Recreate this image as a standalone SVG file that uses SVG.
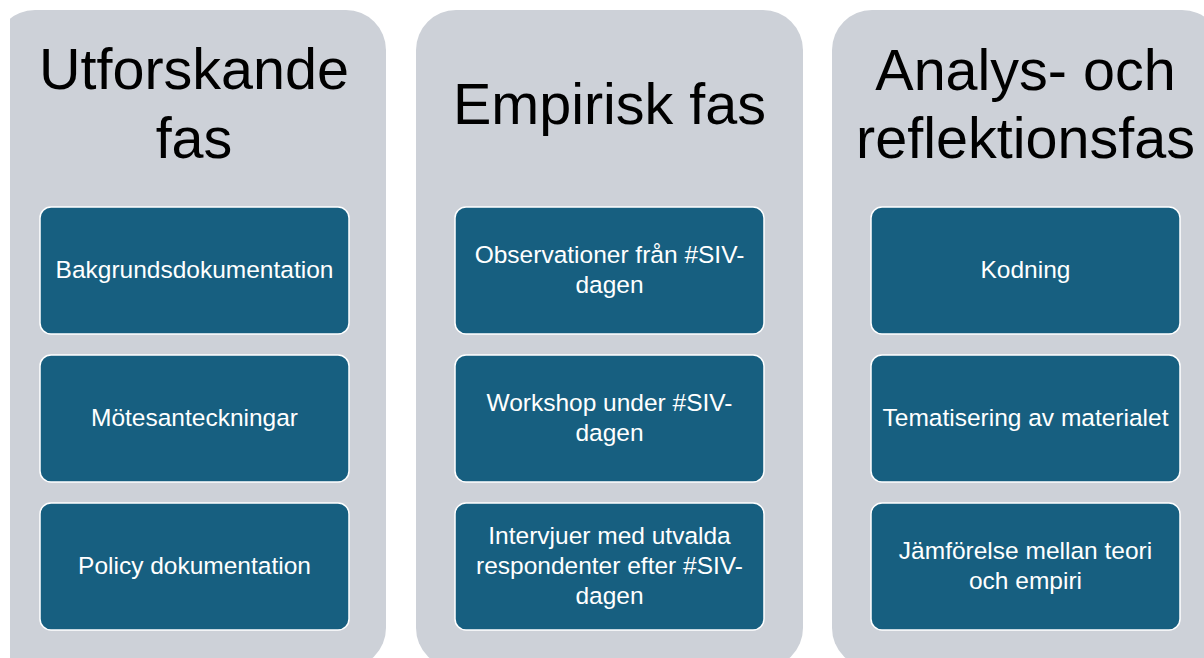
<svg xmlns="http://www.w3.org/2000/svg" width="1204" height="658" viewBox="0 0 1204 658">
<defs>
<clipPath id="c1"><rect x="10" y="0" width="400" height="658"/></clipPath>
<style>
.panel{fill:#cdd1d8}
.box{fill:#175f80;stroke:#ffffff;stroke-width:1.5}
.title{font-family:"Liberation Sans",Arial,sans-serif;font-size:57.5px;fill:#000;text-anchor:middle}
.lbl{font-family:"Liberation Sans",Arial,sans-serif;font-size:24.5px;fill:#fff;text-anchor:middle}
</style>
</defs>
<rect width="1204" height="658" fill="#ffffff"/>
<g id="phase1">
<rect class="panel" x="-5" y="10" width="391" height="658" rx="40" clip-path="url(#c1)"/>
<text class="title" x="194" y="89">Utforskande</text>
<text class="title" x="194" y="158">fas</text>
</g>
<g id="phase2">
<rect class="panel" x="416" y="10" width="387" height="658" rx="40"/>
<text class="title" x="609.5" y="124">Empirisk fas</text>
</g>
<g id="phase3">
<rect class="panel" x="832" y="10" width="390" height="658" rx="40"/>
<text class="title" x="1025.5" y="90">Analys- och</text>
<text class="title" x="1025.5" y="158">reflektionsfas</text>
</g>
<g id="n1"><rect class="box" x="40" y="207" width="309" height="127" rx="11"/><text class="lbl" x="194.5" y="278">Bakgrundsdokumentation</text></g>
<g id="n2"><rect class="box" x="40" y="355" width="309" height="127" rx="11"/><text class="lbl" x="194.5" y="426">Mötesanteckningar</text></g>
<g id="n3"><rect class="box" x="40" y="503" width="309" height="127" rx="11"/><text class="lbl" x="194.5" y="574">Policy dokumentation</text></g>
<g id="n4"><rect class="box" x="455" y="207" width="309" height="127" rx="11"/><text class="lbl" x="609.5" y="263">Observationer från #SIV-</text><text class="lbl" x="609.5" y="293">dagen</text></g>
<g id="n5"><rect class="box" x="455" y="355" width="309" height="127" rx="11"/><text class="lbl" x="609.5" y="411">Workshop under #SIV-</text><text class="lbl" x="609.5" y="441">dagen</text></g>
<g id="n6"><rect class="box" x="455" y="503" width="309" height="127" rx="11"/><text class="lbl" x="609.5" y="544">Intervjuer med utvalda</text><text class="lbl" x="609.5" y="574">respondenter efter #SIV-</text><text class="lbl" x="609.5" y="604">dagen</text></g>
<g id="n7"><rect class="box" x="871" y="207" width="309" height="127" rx="11"/><text class="lbl" x="1025.5" y="278">Kodning</text></g>
<g id="n8"><rect class="box" x="871" y="355" width="309" height="127" rx="11"/><text class="lbl" x="1025.5" y="426">Tematisering av materialet</text></g>
<g id="n9"><rect class="box" x="871" y="503" width="309" height="127" rx="11"/><text class="lbl" x="1025.5" y="559">Jämförelse mellan teori</text><text class="lbl" x="1025.5" y="589">och empiri</text></g>
<g id="connectors"></g>
</svg>
